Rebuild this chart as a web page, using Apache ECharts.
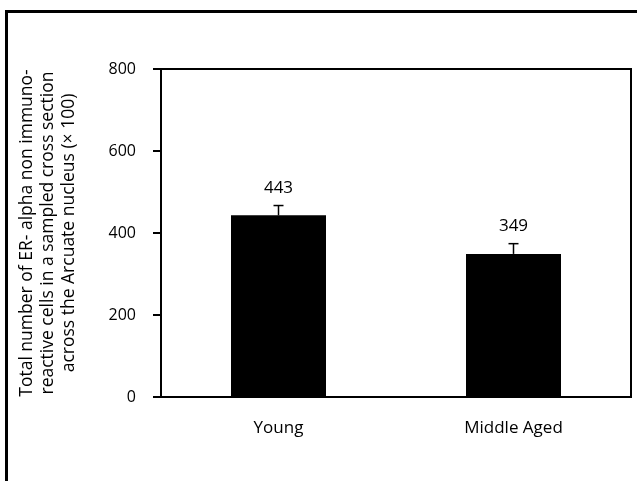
<!DOCTYPE html>
<html>
<head>
<meta charset="utf-8">
<script src="https://cdn.jsdelivr.net/npm/echarts@6/dist/echarts.min.js"></script>
<style>html,body{margin:0;padding:0;background:#fff;}#c{width:637px;height:481px;}</style>
</head>
<body>
<div id="c"></div>
<script>
const categories = ['Young', 'Middle Aged'];
const means = [443, 349];
const errors = [24, 25];
const yTicks = [0, 200, 400, 600, 800];
const yTitle = ['Total number of ER- alpha non immuno-', 'reactive cells in a sampled cross section', 'across the Arcuate nucleus (\u00d7 100)'];

const FONT = '"Open Sans", "Noto Sans", sans-serif';
const chart = echarts.init(document.getElementById('c'), null, {renderer: 'canvas'});
chart.setOption({
  animation: false,
  backgroundColor: '#fff',
  grid: {left: 161, top: 69, right: 6, bottom: 84, show: true, borderColor: '#000', borderWidth: 2, backgroundColor: 'transparent'},
  xAxis: {
    type: 'category', data: categories, boundaryGap: true,
    axisLine: {show: true, lineStyle: {color: '#000', width: 2}},
    axisTick: {show: false},
    axisLabel: {color: '#000', fontSize: 17, fontFamily: FONT, margin: 23}
  },
  yAxis: {
    type: 'value', min: yTicks[0], max: yTicks[yTicks.length - 1], interval: 200,
    axisLine: {show: true, lineStyle: {color: '#000', width: 2}},
    axisTick: {show: true, inside: false, length: 8, lineStyle: {color: '#000', width: 2}},
    splitLine: {show: false},
    axisLabel: {color: '#000', fontSize: 16, fontFamily: FONT, margin: 25}
  },
  graphic: [
    {type: 'rect', z: 100, silent: true, shape: {x: 6.5, y: 11.5, width: 700, height: 600},
     style: {fill: 'none', stroke: '#000', lineWidth: 3}},
    {type: 'text', z: 100, x: 48, y: 233, rotation: Math.PI / 2,
     style: {text: yTitle.join('\n'), fill: '#000', font: '17.5px ' + FONT, textAlign: 'center', textVerticalAlign: 'middle', lineHeight: 21}}
  ],
  series: [
    {
      type: 'bar', data: means, barWidth: 95,
      itemStyle: {color: '#000'},
      label: {show: true, position: 'top', distance: 19, color: '#000', fontSize: 17, fontFamily: FONT},
      z: 2
    },
    {
      type: 'custom', z: 3,
      data: means.map((m, i) => [i, m, m + errors[i]]),
      renderItem: function (params, api) {
        const p0 = api.coord([api.value(0), api.value(1)]);
        const p1 = api.coord([api.value(0), api.value(2)]);
        const w = 5;
        return {
          type: 'group',
          children: [
            {type: 'line', shape: {x1: p0[0], y1: p0[1], x2: p1[0], y2: p1[1]}, style: {stroke: '#000', lineWidth: 1.5}},
            {type: 'line', shape: {x1: p1[0] - w, y1: p1[1], x2: p1[0] + w, y2: p1[1]}, style: {stroke: '#000', lineWidth: 1.5}}
          ]
        };
      }
    }
  ]
});
</script>
</body>
</html>
